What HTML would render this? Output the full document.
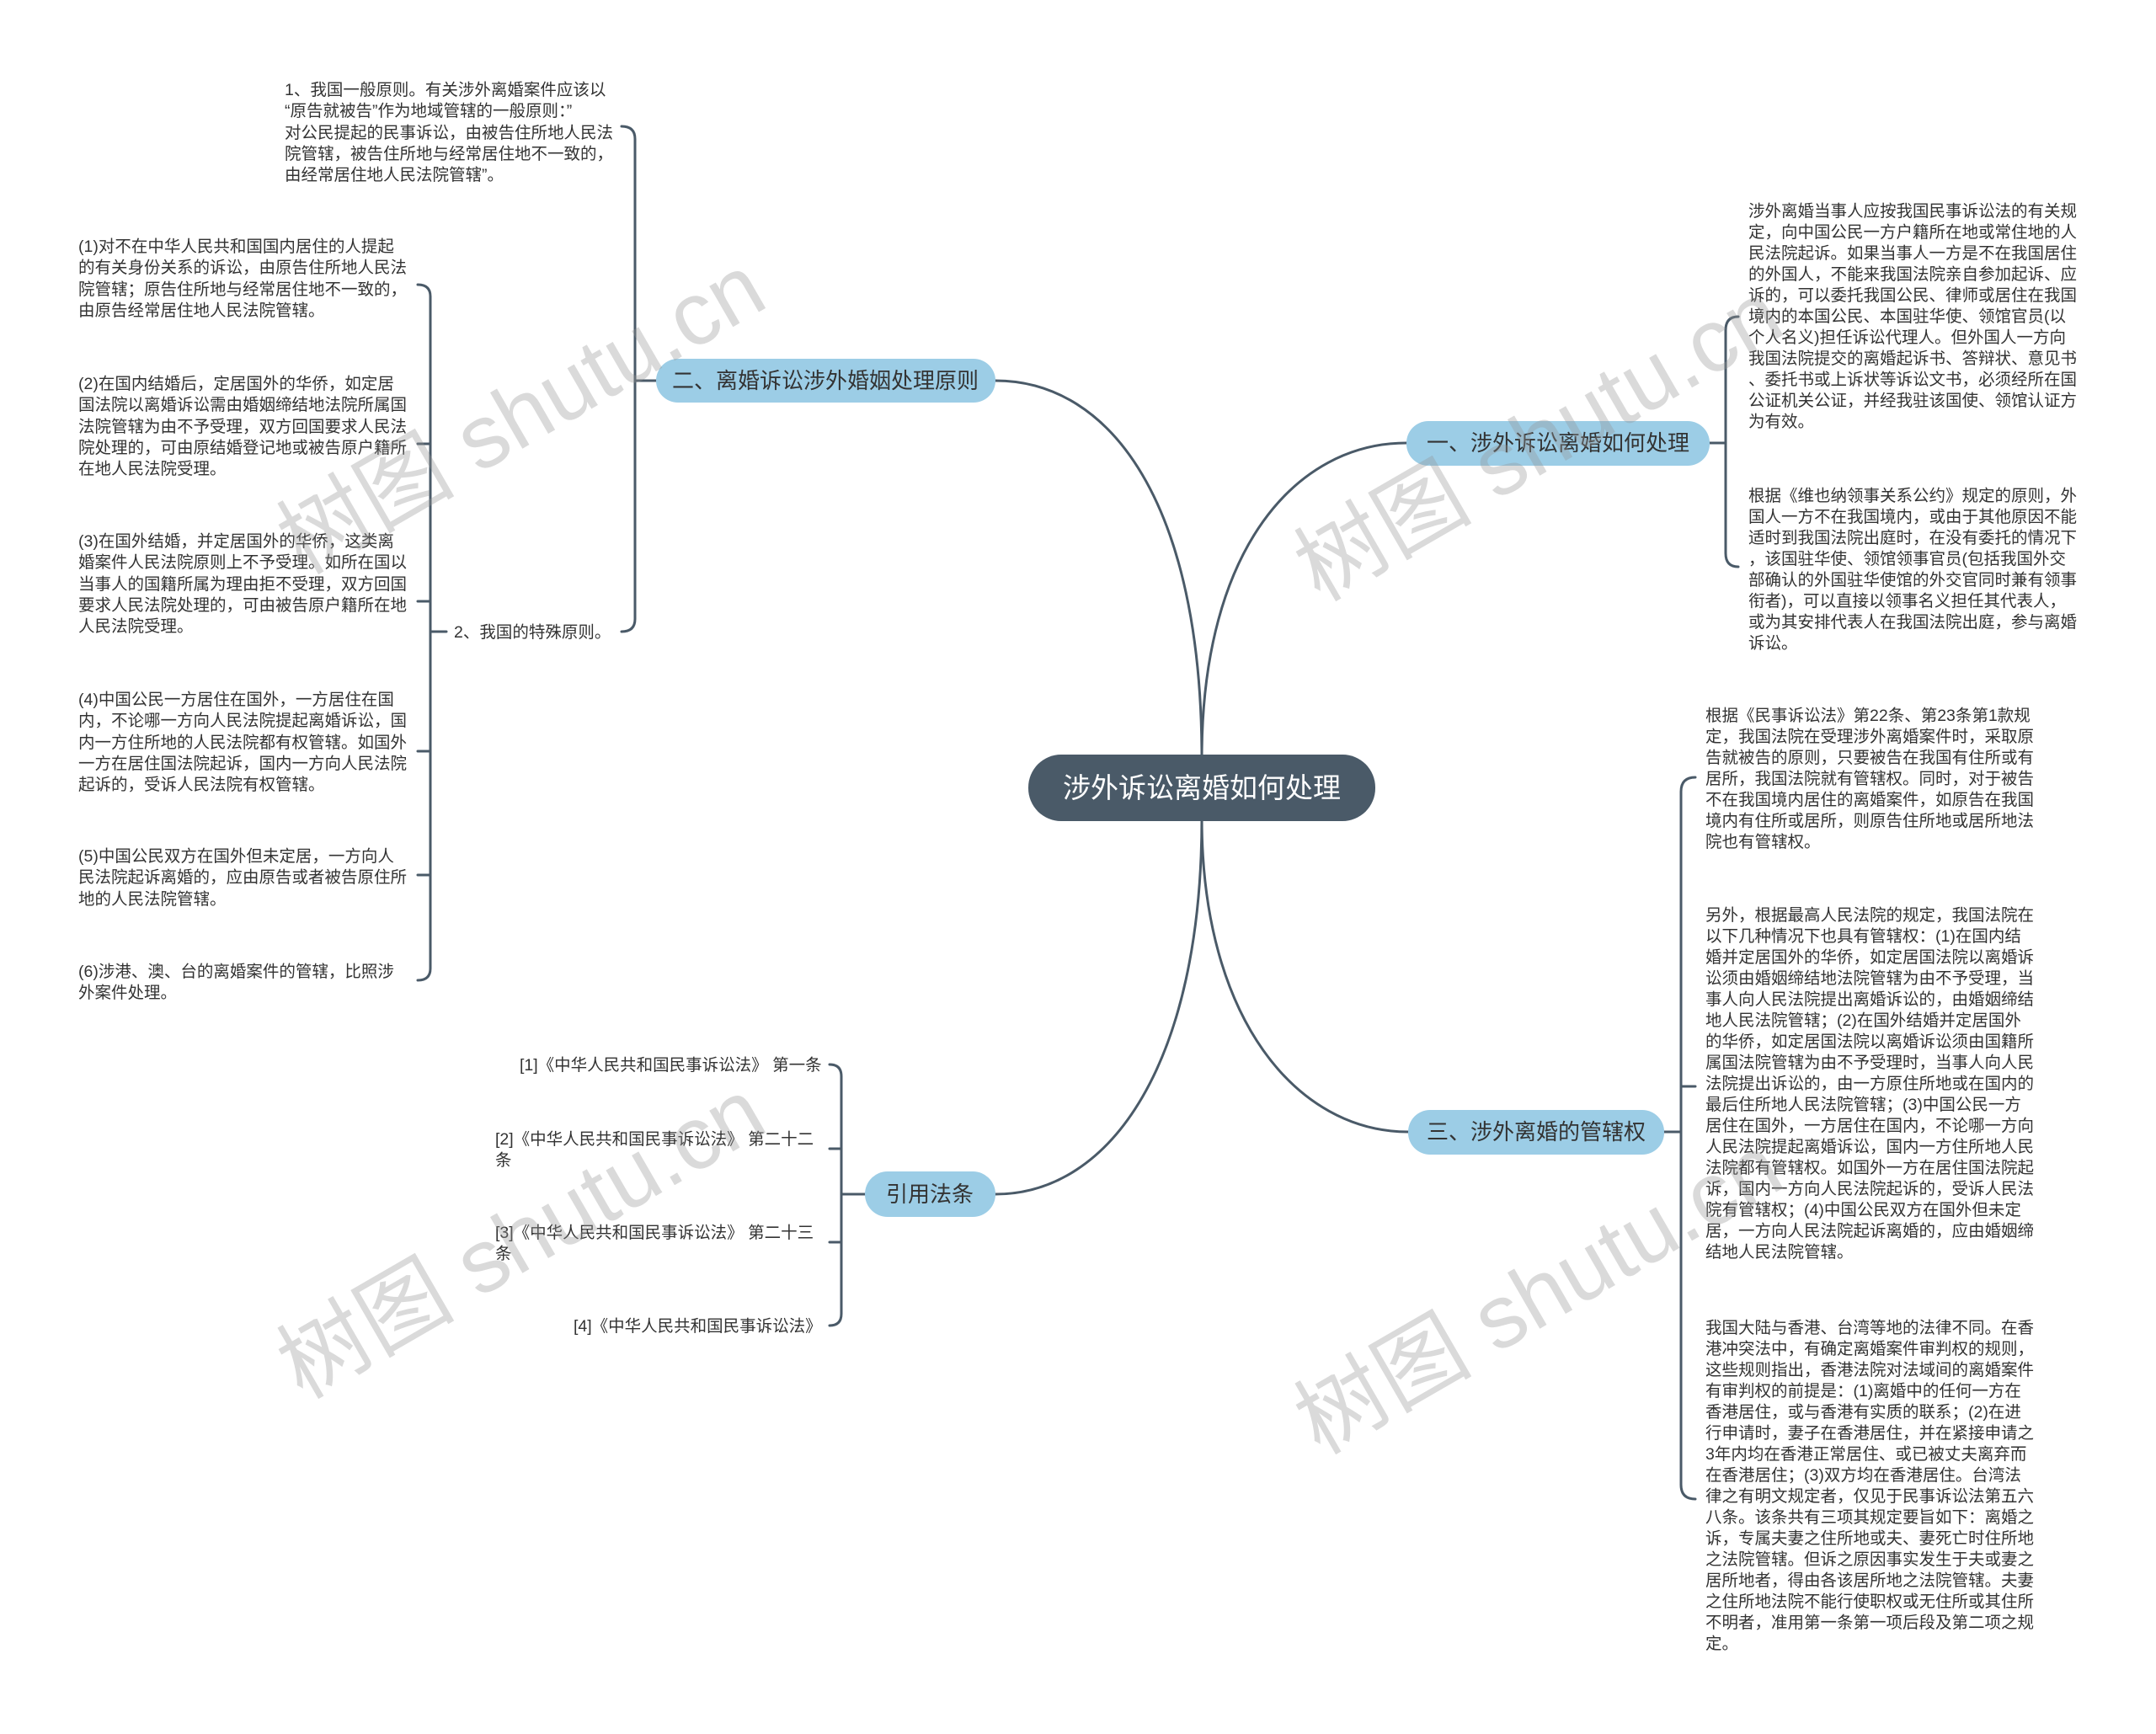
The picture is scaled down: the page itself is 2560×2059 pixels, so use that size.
<!DOCTYPE html>
<html><head><meta charset="utf-8"><style>
html,body{margin:0;padding:0;background:#fff}
svg{display:block}
text{font-family:"Liberation Sans","Noto Sans CJK SC",sans-serif}
.t{font-size:19.5px;fill:#333}
.b{font-size:26px;fill:#333}
</style></head><body>
<svg width="2560" height="2059" viewBox="0 0 2560 2059" xmlns="http://www.w3.org/2000/svg">
<g fill="none" stroke="#4a5a68" stroke-width="3" stroke-linecap="round">
<!-- main connectors -->
<path d="M1427,900 C1427,600 1320,452 1182,452"/>
<path d="M1427,900 C1427,650 1540,526 1670,526"/>
<path d="M1427,972 C1427,1210 1540,1344 1672,1344"/>
<path d="M1427,972 C1427,1260 1320,1418 1182,1418"/>
<!-- 二 bracket -->
<path d="M779,452 L754,452"/>
<path d="M754,452 L754,165 Q754,150 738,150"/>
<path d="M754,452 L754,735 Q754,750 738,750"/>
<!-- 2 sub bracket -->
<path d="M530,750 L511,750"/>
<path d="M511,750 L511,352 Q511,338 496,338"/>
<path d="M511,750 L511,1150 Q511,1164 496,1164"/>
<path d="M511,527 Q511,527 496,527"/>
<path d="M511,714 L496,714"/>
<path d="M511,892 L496,892"/>
<path d="M511,1039 L496,1039"/>
<!-- 一 bracket -->
<path d="M2030,526 L2049,526"/>
<path d="M2049,526 L2049,392 Q2049,376 2064,376"/>
<path d="M2049,526 L2049,657 Q2049,673 2064,673"/>
<!-- 三 bracket -->
<path d="M1976,1344 L1996,1344"/>
<path d="M1996,1344 L1996,940 Q1996,923 2013,923"/>
<path d="M1996,1344 L1996,1763 Q1996,1780 2013,1780"/>
<path d="M1996,1290 Q1996,1290 2013,1290"/>
<!-- 引用 bracket -->
<path d="M1027,1418 L999,1418"/>
<path d="M999,1418 L999,1278 Q999,1264 985,1264"/>
<path d="M999,1418 L999,1560 Q999,1574 985,1574"/>
<path d="M999,1364 L985,1364"/>
<path d="M999,1475 L985,1475"/>
</g>

<!-- center -->
<rect x="1221" y="896" width="412" height="79" rx="39" fill="#4a5a68"/>
<text x="1427" y="947" text-anchor="middle" font-size="33" fill="#fff">涉外诉讼离婚如何处理</text>

<!-- branches -->
<rect x="779" y="426" width="403" height="52" rx="26" fill="#9ccde6"/>
<text x="980" y="461" text-anchor="middle" class="b">二、离婚诉讼涉外婚姻处理原则</text>
<rect x="1670" y="500" width="360" height="53" rx="26" fill="#9ccde6"/>
<text x="1850" y="535" text-anchor="middle" class="b">一、涉外诉讼离婚如何处理</text>
<rect x="1672" y="1318" width="304" height="53" rx="26" fill="#9ccde6"/>
<text x="1824" y="1353" text-anchor="middle" class="b">三、涉外离婚的管辖权</text>
<rect x="1027" y="1391" width="155" height="54" rx="27" fill="#9ccde6"/>
<text x="1104" y="1427" text-anchor="middle" class="b">引用法条</text>

<!-- top-left leaf -->
<text class="t">
<tspan x="338" y="113">1、我国一般原则。有关涉外离婚案件应该以</tspan>
<tspan x="338" y="138">“原告就被告”作为地域管辖的一般原则：”</tspan>
<tspan x="338" y="164">对公民提起的民事诉讼，由被告住所地人民法</tspan>
<tspan x="338" y="189">院管辖，被告住所地与经常居住地不一致的，</tspan>
<tspan x="338" y="214">由经常居住地人民法院管辖”。</tspan>
</text>
<text x="539" y="757" class="t">2、我国的特殊原则。</text>

<text class="t">
<tspan x="93" y="299">(1)对不在中华人民共和国国内居住的人提起</tspan>
<tspan x="93" y="324">的有关身份关系的诉讼，由原告住所地人民法</tspan>
<tspan x="93" y="350">院管辖；原告住所地与经常居住地不一致的，</tspan>
<tspan x="93" y="375">由原告经常居住地人民法院管辖。</tspan>
</text>
<text class="t">
<tspan x="93" y="462">(2)在国内结婚后，定居国外的华侨，如定居</tspan>
<tspan x="93" y="487">国法院以离婚诉讼需由婚姻缔结地法院所属国</tspan>
<tspan x="93" y="513">法院管辖为由不予受理，双方回国要求人民法</tspan>
<tspan x="93" y="538">院处理的，可由原结婚登记地或被告原户籍所</tspan>
<tspan x="93" y="563">在地人民法院受理。</tspan>
</text>
<text class="t">
<tspan x="93" y="649">(3)在国外结婚，并定居国外的华侨，这类离</tspan>
<tspan x="93" y="674">婚案件人民法院原则上不予受理。如所在国以</tspan>
<tspan x="93" y="700">当事人的国籍所属为理由拒不受理，双方回国</tspan>
<tspan x="93" y="725">要求人民法院处理的，可由被告原户籍所在地</tspan>
<tspan x="93" y="750">人民法院受理。</tspan>
</text>
<text class="t">
<tspan x="93" y="837">(4)中国公民一方居住在国外，一方居住在国</tspan>
<tspan x="93" y="862">内，不论哪一方向人民法院提起离婚诉讼，国</tspan>
<tspan x="93" y="888">内一方住所地的人民法院都有权管辖。如国外</tspan>
<tspan x="93" y="913">一方在居住国法院起诉，国内一方向人民法院</tspan>
<tspan x="93" y="938">起诉的，受诉人民法院有权管辖。</tspan>
</text>
<text class="t">
<tspan x="93" y="1023">(5)中国公民双方在国外但未定居，一方向人</tspan>
<tspan x="93" y="1048">民法院起诉离婚的，应由原告或者被告原住所</tspan>
<tspan x="93" y="1074">地的人民法院管辖。</tspan>
</text>
<text class="t">
<tspan x="93" y="1160">(6)涉港、澳、台的离婚案件的管辖，比照涉</tspan>
<tspan x="93" y="1185">外案件处理。</tspan>
</text>

<!-- right 一 -->
<text class="t">
<tspan x="2076" y="257">涉外离婚当事人应按我国民事诉讼法的有关规</tspan>
<tspan x="2076" y="282">定，向中国公民一方户籍所在地或常住地的人</tspan>
<tspan x="2076" y="307">民法院起诉。如果当事人一方是不在我国居住</tspan>
<tspan x="2076" y="332">的外国人，不能来我国法院亲自参加起诉、应</tspan>
<tspan x="2076" y="357">诉的，可以委托我国公民、律师或居住在我国</tspan>
<tspan x="2076" y="382">境内的本国公民、本国驻华使、领馆官员(以</tspan>
<tspan x="2076" y="407">个人名义)担任诉讼代理人。但外国人一方向</tspan>
<tspan x="2076" y="432">我国法院提交的离婚起诉书、答辩状、意见书</tspan>
<tspan x="2076" y="457">、委托书或上诉状等诉讼文书，必须经所在国</tspan>
<tspan x="2076" y="482">公证机关公证，并经我驻该国使、领馆认证方</tspan>
<tspan x="2076" y="507">为有效。</tspan>
</text>
<text class="t">
<tspan x="2076" y="595">根据《维也纳领事关系公约》规定的原则，外</tspan>
<tspan x="2076" y="620">国人一方不在我国境内，或由于其他原因不能</tspan>
<tspan x="2076" y="645">适时到我国法院出庭时，在没有委托的情况下</tspan>
<tspan x="2076" y="670">，该国驻华使、领馆领事官员(包括我国外交</tspan>
<tspan x="2076" y="695">部确认的外国驻华使馆的外交官同时兼有领事</tspan>
<tspan x="2076" y="720">衔者)，可以直接以领事名义担任其代表人，</tspan>
<tspan x="2076" y="745">或为其安排代表人在我国法院出庭，参与离婚</tspan>
<tspan x="2076" y="770">诉讼。</tspan>
</text>

<!-- right 三 -->
<text class="t">
<tspan x="2025" y="856">根据《民事诉讼法》第22条、第23条第1款规</tspan>
<tspan x="2025" y="881">定，我国法院在受理涉外离婚案件时，采取原</tspan>
<tspan x="2025" y="906">告就被告的原则，只要被告在我国有住所或有</tspan>
<tspan x="2025" y="931">居所，我国法院就有管辖权。同时，对于被告</tspan>
<tspan x="2025" y="956">不在我国境内居住的离婚案件，如原告在我国</tspan>
<tspan x="2025" y="981">境内有住所或居所，则原告住所地或居所地法</tspan>
<tspan x="2025" y="1006">院也有管辖权。</tspan>
</text>
<text class="t">
<tspan x="2025" y="1093">另外，根据最高人民法院的规定，我国法院在</tspan>
<tspan x="2025" y="1118">以下几种情况下也具有管辖权：(1)在国内结</tspan>
<tspan x="2025" y="1143">婚并定居国外的华侨，如定居国法院以离婚诉</tspan>
<tspan x="2025" y="1168">讼须由婚姻缔结地法院管辖为由不予受理，当</tspan>
<tspan x="2025" y="1193">事人向人民法院提出离婚诉讼的，由婚姻缔结</tspan>
<tspan x="2025" y="1218">地人民法院管辖；(2)在国外结婚并定居国外</tspan>
<tspan x="2025" y="1243">的华侨，如定居国法院以离婚诉讼须由国籍所</tspan>
<tspan x="2025" y="1268">属国法院管辖为由不予受理时，当事人向人民</tspan>
<tspan x="2025" y="1293">法院提出诉讼的，由一方原住所地或在国内的</tspan>
<tspan x="2025" y="1318">最后住所地人民法院管辖；(3)中国公民一方</tspan>
<tspan x="2025" y="1343">居住在国外，一方居住在国内，不论哪一方向</tspan>
<tspan x="2025" y="1368">人民法院提起离婚诉讼，国内一方住所地人民</tspan>
<tspan x="2025" y="1393">法院都有管辖权。如国外一方在居住国法院起</tspan>
<tspan x="2025" y="1418">诉，国内一方向人民法院起诉的，受诉人民法</tspan>
<tspan x="2025" y="1443">院有管辖权；(4)中国公民双方在国外但未定</tspan>
<tspan x="2025" y="1468">居，一方向人民法院起诉离婚的，应由婚姻缔</tspan>
<tspan x="2025" y="1493">结地人民法院管辖。</tspan>
</text>
<text class="t">
<tspan x="2025" y="1583">我国大陆与香港、台湾等地的法律不同。在香</tspan>
<tspan x="2025" y="1608">港冲突法中，有确定离婚案件审判权的规则，</tspan>
<tspan x="2025" y="1633">这些规则指出，香港法院对法域间的离婚案件</tspan>
<tspan x="2025" y="1658">有审判权的前提是：(1)离婚中的任何一方在</tspan>
<tspan x="2025" y="1683">香港居住，或与香港有实质的联系；(2)在进</tspan>
<tspan x="2025" y="1708">行申请时，妻子在香港居住，并在紧接申请之</tspan>
<tspan x="2025" y="1733">3年内均在香港正常居住、或已被丈夫离弃而</tspan>
<tspan x="2025" y="1758">在香港居住；(3)双方均在香港居住。台湾法</tspan>
<tspan x="2025" y="1783">律之有明文规定者，仅见于民事诉讼法第五六</tspan>
<tspan x="2025" y="1808">八条。该条共有三项其规定要旨如下：离婚之</tspan>
<tspan x="2025" y="1833">诉，专属夫妻之住所地或夫、妻死亡时住所地</tspan>
<tspan x="2025" y="1858">之法院管辖。但诉之原因事实发生于夫或妻之</tspan>
<tspan x="2025" y="1883">居所地者，得由各该居所地之法院管辖。夫妻</tspan>
<tspan x="2025" y="1908">之住所地法院不能行使职权或无住所或其住所</tspan>
<tspan x="2025" y="1933">不明者，准用第一条第一项后段及第二项之规</tspan>
<tspan x="2025" y="1958">定。</tspan>
</text>

<!-- citations -->
<text class="t">
<tspan x="617" y="1271">[1]《中华人民共和国民事诉讼法》 第一条</tspan>
<tspan x="588" y="1359">[2]《中华人民共和国民事诉讼法》 第二十二</tspan>
<tspan x="588" y="1384">条</tspan>
<tspan x="588" y="1470">[3]《中华人民共和国民事诉讼法》 第二十三</tspan>
<tspan x="588" y="1495">条</tspan>
<tspan x="681" y="1581">[4]《中华人民共和国民事诉讼法》</tspan>
</text>

<!-- watermarks -->
<g font-size="106" fill="rgba(150,150,150,0.35)" font-family="'Liberation Serif','Noto Serif CJK SC',serif">
<text transform="translate(637,523) rotate(-30)" text-anchor="middle">树图 shutu.cn</text>
<text transform="translate(1845,555) rotate(-30)" text-anchor="middle">树图 shutu.cn</text>
<text transform="translate(637,1502) rotate(-30)" text-anchor="middle">树图 shutu.cn</text>
<text transform="translate(1845,1568) rotate(-30)" text-anchor="middle">树图 shutu.cn</text>
</g>
</svg>
</body></html>
